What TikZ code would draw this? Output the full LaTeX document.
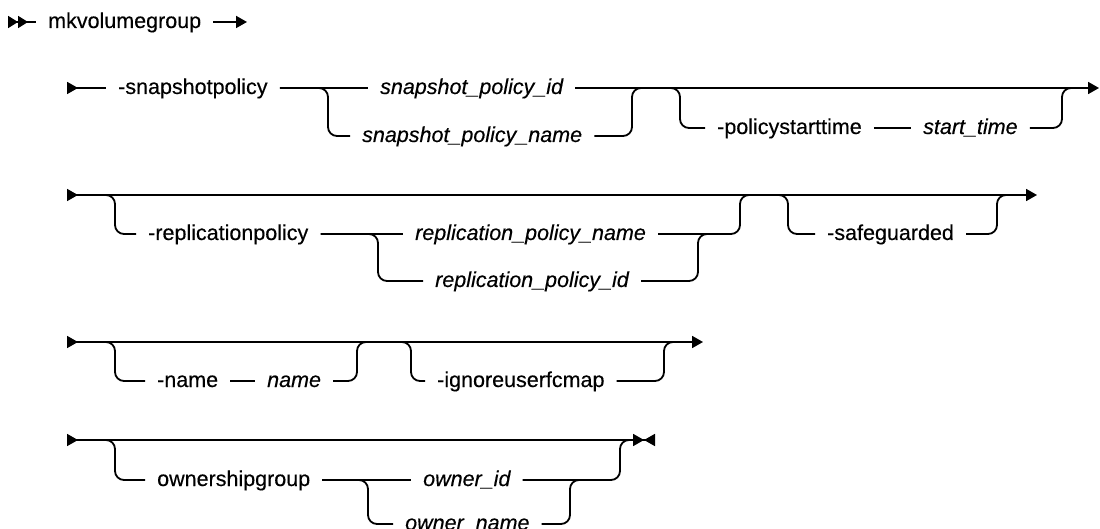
\documentclass[tikz,border=0pt]{standalone}
\usepackage{fontspec}
\setmainfont{Liberation Sans}[FakeBold=0.35]
\usetikzlibrary{arrows.meta}
\tikzset{
  rail/.style={line width=1.8pt, rounded corners=9pt},
  kw/.style={inner xsep=12pt, inner ysep=0pt, text height=16pt, text depth=4pt,
    anchor=west, font=\fontsize{21.5pt}{26pt}\selectfont},
  var/.style={kw, font=\fontsize{21.5pt}{26pt}\selectfont\itshape},
  railstart/.style={{Triangle[reversed,length=11pt,width=12pt]}-},
  railend/.style={-{Triangle[length=11pt,width=12pt]}},
  railboth/.style={{Triangle[reversed,length=11pt,width=12pt]}-{Triangle[length=11pt,width=12pt]}},
  railfinal/.style={{Triangle[reversed,length=11pt,width=12pt]}-{Triangle[length=11pt,width=12pt] Triangle[reversed,length=11pt,width=12pt]}},
  railfirst/.style={{Triangle[reversed,length=10pt,width=12pt] Triangle[reversed,length=10pt,width=12pt]}-}
}
\begin{document}
\begin{tikzpicture}[x=1pt,y=-1pt]
\useasboundingbox (0,0) rectangle (1100,529);

% Row 0
\coordinate (s0) at (8,22);
\coordinate (e0) at (247,22);
\node[kw] (mk) at (36,22) {mkvolumegroup};
\draw[rail, railfirst] (s0) -- (mk.west);
\draw[rail, railend] (mk.east) -- (e0);

% Row 1
\coordinate (s1) at (67,88);
\coordinate (e1) at (1099,88);
\node[kw] (snap) at (106,88) {-snapshotpolicy};
\node[var] (spid) at (368,88) {snapshot\_policy\_id};
\node[var] (spname) at (350,136) {snapshot\_policy\_name};
\node[kw] (pst) at (705,128) {-policystarttime};
\node[var] (stime) at (911,128) {start\_time};
\draw[rail, railstart] (s1) -- (snap.west);
\draw[rail] (snap.east) -- (spid.west);
\draw[rail] (snap.east) -| (328,136) -- (spname.west);
\draw[rail] (spname.east) -| (632,88) -- ++(14,0);
\draw[rail, railend] (spid.east) -- (e1);
\draw[rail] (spid.east) -| (680,128) -- (pst.west);
\draw[rail] (pst.east) -- (stime.west);
\draw[rail] (stime.east) -| (1062,88) -- ++(12,0);

% Row 2
\coordinate (s2) at (67,195);
\coordinate (e2) at (1037,195);
\node[kw] (rp) at (136,234) {-replicationpolicy};
\node[var] (rpn) at (403,234) {replication\_policy\_name};
\node[var] (rpi) at (423,281) {replication\_policy\_id};
\node[kw] (safe) at (815,234) {-safeguarded};
\draw[rail, railboth] (s2) -- (e2);
\draw[rail] (s2) -| (115,234) -- (rp.west);
\draw[rail] (rp.east) -- (rpn.west);
\draw[rail] (rp.east) -| (378,281) -- (rpi.west);
\draw[rail] (rpi.east) -| (698,234) -- ++(12,0);
\draw[rail] (rpn.east) -| (740,195) -- ++(12,0);
\draw[rail] (s2) -| (788,234) -- (safe.west);
\draw[rail] (safe.east) -| (997,195) -- ++(12,0);

% Row 3
\coordinate (s3) at (67,342);
\coordinate (e3) at (703,342);
\node[kw] (nm) at (145,381) {-name};
\node[var] (nmv) at (255,381) {name};
\node[kw] (ig) at (425,381) {-ignoreuserfcmap};
\draw[rail, railboth] (s3) -- (e3);
\draw[rail] (s3) -| (115,381) -- (nm.west);
\draw[rail] (nm.east) -- (nmv.west);
\draw[rail] (nmv.east) -| (357,342) -- ++(12,0);
\draw[rail] (s3) -| (411,381) -- (ig.west);
\draw[rail] (ig.east) -| (664,342) -- ++(12,0);

% Row 4
\coordinate (s4) at (67,440);
\coordinate (e4) at (655,440);
\node[kw] (og) at (145,480) {ownershipgroup};
\node[var] (oid) at (411,480) {owner\_id};
\node[var] (oname) at (393,524) {owner\_name};
\draw[rail, railfinal] (s4) -- (e4);
\draw[rail] (s4) -| (115,480) -- (og.west);
\draw[rail] (og.east) -- (oid.west);
\draw[rail] (og.east) -| (368,524) -- (oname.west);
\draw[rail] (oname.east) -| (570,480) -- ++(10,0);
\draw[rail] (oid.east) -| (620,440) -- ++(10,0);
\end{tikzpicture}
\end{document}
